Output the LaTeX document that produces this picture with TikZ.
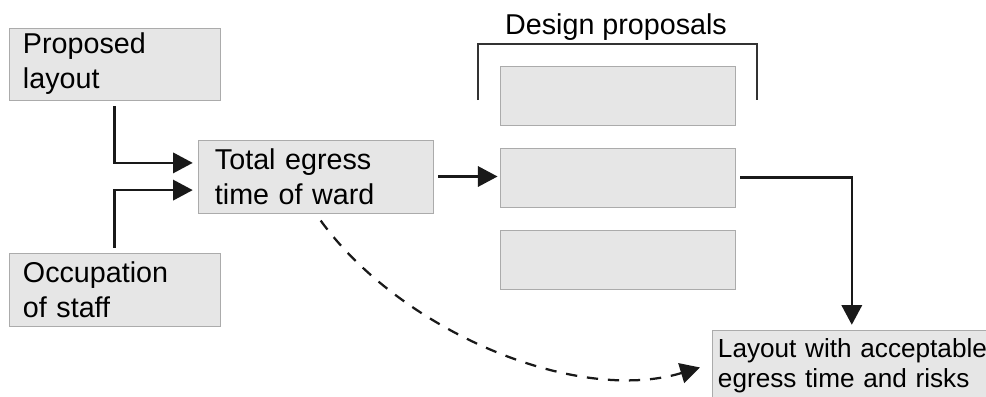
\documentclass[tikz,border=0pt]{standalone}
\usepackage{fontspec}
\setmainfont{Liberation Sans}
\usetikzlibrary{arrows.meta}
\definecolor{boxfill}{HTML}{E6E6E6}
\definecolor{boxline}{HTML}{ABABAB}
\definecolor{bracketline}{HTML}{333333}
\tikzset{
  box/.style={draw=boxline, fill=boxfill, line width=0.6pt, align=left,
    inner ysep=0pt, font=\fontsize{20.4}{25}\selectfont},
  inbox/.style={box, text width=4.575cm, inner xsep=0.35cm, minimum width=5.275cm},
  propbox/.style={box, minimum width=5.875cm, minimum height=1.475cm},
  link/.style={line width=1.6pt, draw=black!90,
    -{Triangle[length=14pt, width=14.5pt]}},
}

\begin{document}
\begin{tikzpicture}[x=0.025cm, y=-0.025cm]
    \useasboundingbox (0,0) rectangle (986,396);
    % inputs
    \node[inbox, minimum height=1.8cm] (layout) at (114.5,64) {Proposed\\layout};
    \node[inbox, minimum height=1.825cm] (staff) at (114.5,289.5) {Occupation\\of staff};
    \node[box, text width=5.025cm, inner xsep=0.425cm, minimum height=1.825cm] (egress) at (315.5,176.5) {Total egress\\time of ward};
    % design proposals
    \node[propbox] (prop1) at (617.5,96) {};
    \node[propbox] (prop2) at (617.5,177.5) {};
    \node[propbox] (prop3) at (617.5,259.5) {};
    \draw[line width=1.6pt, bracketline] (478,100) -- (478,44) -- (757,44) -- (757,100);
    \node[font=\fontsize{20.4}{25}\selectfont, anchor=base] (proplabel) at (616,34) {Design proposals};
    % result
    \node[box, font=\fontsize{18.6}{21.5}\selectfont, text width=6.85cm, inner xsep=0.15cm, minimum height=1.8cm] (result) at (855,366) {Layout with acceptable\\egress time and risks};
    % connectors
    \draw[link, shorten <=0.15cm, shorten >=0.12cm] (layout.south) |- ([yshift=0.34cm]egress.west);
    \draw[link, shorten <=0.12cm, shorten >=0.12cm] (staff.north) |- ([yshift=-0.34cm]egress.west);
    \draw[link, shorten <=0.12cm, shorten >=0.05cm] (egress.east) -- (egress.east -| prop2.west);
    \draw[link, shorten <=0.12cm, shorten >=0.12cm] (prop2.east) -| ([xshift=-0.08cm]result.north);
    \draw[link, dashed, dash pattern=on 8pt off 7pt, shorten <=0.22cm, shorten >=0.3cm]
      (egress.south) .. controls (400,330) and (575,405) .. ([yshift=0.05cm]result.west);
\end{tikzpicture}
\end{document}
